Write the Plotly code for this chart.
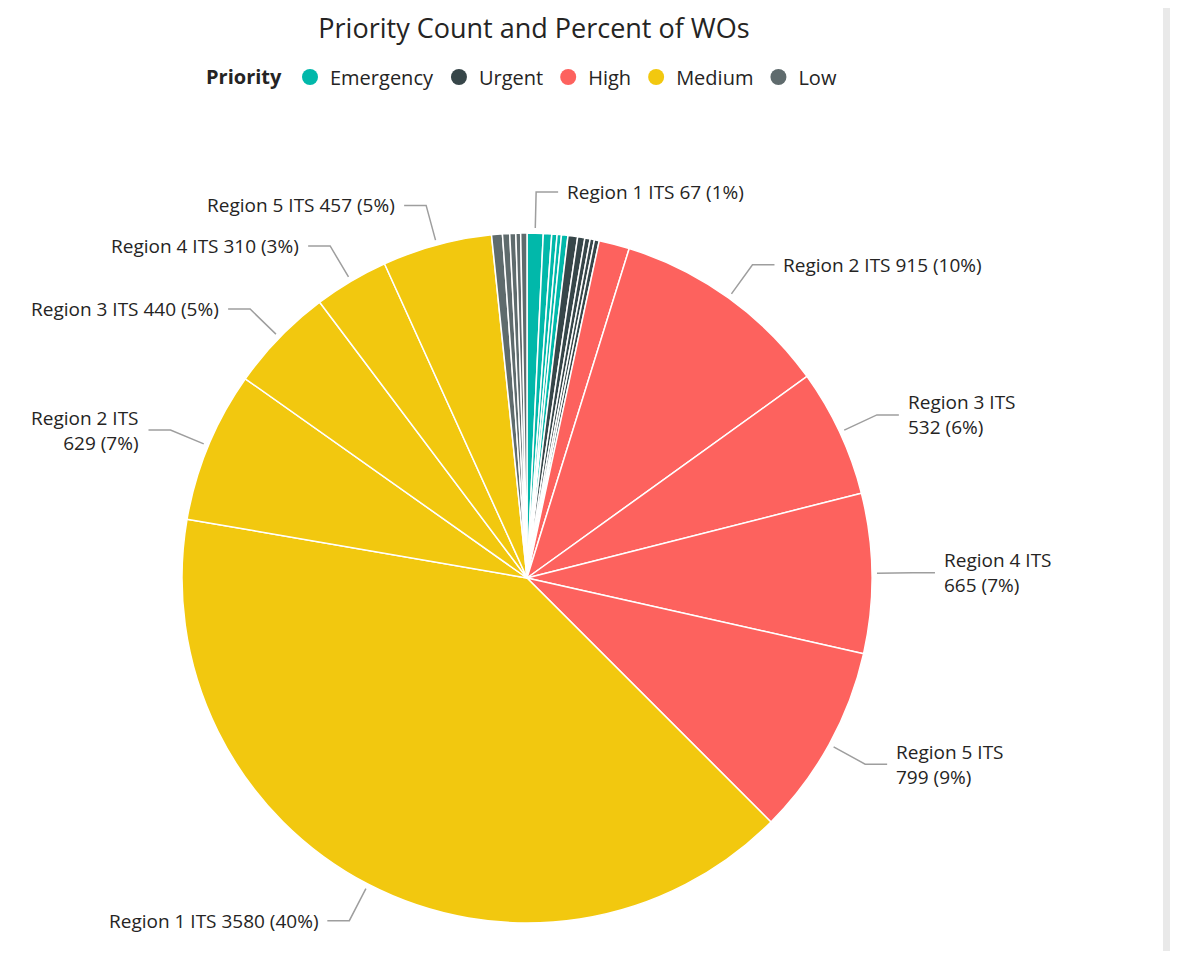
import math
import plotly.graph_objects as go

priorities = ["Emergency", "Urgent", "High", "Medium", "Low"]
colors = ["#01B8AA", "#374649", "#FD625E", "#F2C80F", "#5F6B6D"]
regions = ["Region 1 ITS", "Region 2 ITS", "Region 3 ITS", "Region 4 ITS", "Region 5 ITS"]

emergency = [67, 35, 22, 18, 27]
urgent = [40, 30, 22, 18, 20]
high = [127, 915, 532, 665, 799]
medium = [3580, 629, 440, 310, 457]
low = [45, 30, 25, 20, 26]

# slices that carry a data label -> True if the label wraps to two lines
labeled = {
    ("Emergency", 0): False,
    ("High", 1): False,
    ("High", 2): True,
    ("High", 3): True,
    ("High", 4): True,
    ("Medium", 0): False,
    ("Medium", 1): True,
    ("Medium", 2): False,
    ("Medium", 3): False,
    ("Medium", 4): False,
}

PAD = 8  # default body margin of the html page
W, H = 1178 - 2 * PAD, 959 - 2 * PAD
cx, cy, R = 527, 578, 345  # pie centre / radius in window pixels
FONT = "Open Sans"
TXT = "#252423"

series = [emergency, urgent, high, medium, low]
labels, values, slice_colors, keys = [], [], [], []
for p, vals, col in zip(priorities, series, colors):
    for i, v in enumerate(vals):
        labels.append(p + " - " + regions[i])
        values.append(v)
        slice_colors.append(col)
        keys.append((p, i))

total = sum(values)


def px(x, y):
    # window pixel -> paper coords
    return (x - PAD) / W, 1 - (y - PAD) / H


x0, y0 = px(cx - R, cy + R)
x1, y1 = px(cx + R, cy - R)

fig = go.Figure()
fig.add_trace(go.Pie(
    labels=labels, values=values, sort=False, direction="clockwise", rotation=0,
    marker=dict(colors=slice_colors, line=dict(color="white", width=1.5)),
    textinfo="none", showlegend=False, hoverinfo="label+value+percent",
    domain=dict(x=[x0, x1], y=[y0, y1]),
))

# legend entries (one per priority)
for p, col in zip(priorities, colors):
    fig.add_trace(go.Scatter(x=[None], y=[None], mode="markers", name=p,
                             marker=dict(color=col, size=16, symbol="circle")))

shapes = []
annotations = []
cum = 0
for k, v in zip(keys, values):
    mid = (cum + v / 2) / total * 2 * math.pi
    cum += v
    if k not in labeled:
        continue
    s, c = math.sin(mid), math.cos(mid)
    ex, ey = cx + (R + 5) * s, cy - (R + 5) * c
    bx, by = cx + (R + 41) * s, cy - (R + 41) * c
    side = 1 if s >= 0 else -1
    hx = bx + side * 22
    p0, p1, p2 = px(ex, ey), px(bx, by), px(hx, by)
    shapes.append(dict(type="path", xref="paper", yref="paper",
                       path=f"M {p0[0]},{p0[1]} L {p1[0]},{p1[1]} L {p2[0]},{p2[1]}",
                       line=dict(color="#9E9E9E", width=1.5)))
    pct = round(v / total * 100)
    name = regions[k[1]]
    sep = "<br>" if labeled[k] else " "
    tx = px(hx + side * 7, by)
    annotations.append(dict(
        x=tx[0], y=tx[1], xref="paper", yref="paper", showarrow=False,
        text=f"{name}{sep}{v} ({pct}%)",
        xanchor="left" if side > 0 else "right", yanchor="middle",
        align="left" if side > 0 else "right",
        font=dict(family=FONT, size=19, color=TXT)))

# light grey strip at the right edge of the visual
sx = px(1163, 0)[0]
shapes.append(dict(type="rect", xref="paper", yref="paper", x0=sx, x1=1, y0=0, y1=1,
                   fillcolor="#E9E9E9", line=dict(width=0), layer="below"))

tx = px(534, 0)[0]
lx, ly = px(523, 77)
fig.update_layout(
    width=W, height=H,
    margin=dict(l=0, r=0, t=0, b=0),
    paper_bgcolor="white", plot_bgcolor="white",
    title=dict(text="Priority Count and Percent of WOs", x=tx, xanchor="center",
               y=1, yanchor="top", pad=dict(t=11, b=0),
               font=dict(family=FONT, size=27, color=TXT)),
    xaxis=dict(visible=False), yaxis=dict(visible=False),
    legend=dict(orientation="h", x=lx, xanchor="center", y=ly, yanchor="middle",
                title=dict(text="<b>Priority</b>", side="left",
                           font=dict(family=FONT, size=20, color=TXT)),
                font=dict(family=FONT, size=20, color=TXT), itemwidth=30),
    shapes=shapes,
    annotations=annotations,
)

fig.write_html("out.html")
